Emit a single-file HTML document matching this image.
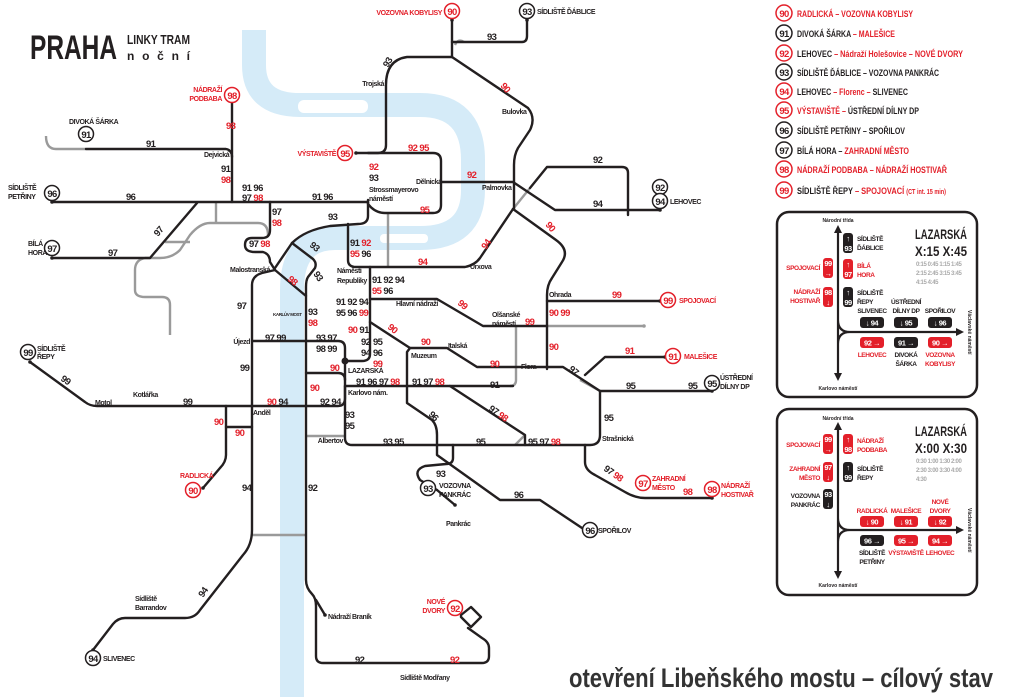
<!DOCTYPE html>
<html><head><meta charset="utf-8"><style>
html,body{margin:0;padding:0;background:#fff;}
svg{display:block;}
text{font-family:"Liberation Sans Narrow","Liberation Sans",sans-serif;font-weight:bold;}
.n{font-size:9.5px;fill:#231f20;letter-spacing:-0.6px;}
.r{fill:#e3202a;}
.s{font-size:7px;fill:#231f20;letter-spacing:-0.4px;}
.k{fill:none;stroke:#231f20;stroke-width:2.4;stroke-linejoin:round;stroke-linecap:round;}
.g{fill:none;stroke:#9a9a9a;stroke-width:2.4;stroke-linejoin:round;}
.cb{fill:#fff;stroke:#231f20;stroke-width:1.5;}
.cr{fill:#fff;stroke:#e3202a;stroke-width:1.5;}
.ct{font-size:9.5px;text-anchor:middle;letter-spacing:-0.6px;}
.lg{font-size:9.5px;}
.bx{fill:none;stroke:#231f20;stroke-width:2.5;}
.pb{fill:#231f20;}
.pr{fill:#e3202a;}
.pt{font-size:7.5px;fill:#fff;text-anchor:middle;letter-spacing:-0.5px;}
.bl{font-size:6.5px;letter-spacing:-0.4px;}
.tg{font-size:6px;fill:#aaa;letter-spacing:-0.4px;}
</style></head><body>
<svg width="1024" height="697" viewBox="0 0 1024 697" xmlns="http://www.w3.org/2000/svg">
<!-- river -->
<path d="M254,30 L254,65 Q254,105 300,105 L420,105 Q473,105 473,160 L473,190 Q473,238 420,238 L335,238 Q292,238 292,290 L292,697" fill="none" stroke="#d5ebf8" stroke-width="24"/>
<rect x="298" y="100" width="70" height="13" rx="6" fill="#fff"/>
<rect x="380" y="234" width="48" height="9" rx="4" fill="#fff"/>

<!-- title -->
<text x="30" y="59" style="font-size:34px" fill="#231f20" textLength="87" lengthAdjust="spacingAndGlyphs">PRAHA</text>
<text x="127" y="44" style="font-size:13px" fill="#231f20" textLength="63" lengthAdjust="spacingAndGlyphs">LINKY TRAM</text>
<text x="127" y="60" style="font-size:12px" fill="#231f20" textLength="63" lengthAdjust="spacing">noční</text>

<!-- gray lines -->
<g class="g">
<path d="M46,136 Q46,149 56,149 L86,149"/>
<path d="M216,202 L216,223"/>
<path d="M268,235 Q268,223 258,223 L210,223 Q200,223 190,235 L180,250 Q172,258 160,258 L145,258 Q135,260 135,270 L135,290 Q135,297 145,297 L162,297 Q170,297 170,305 L170,335"/>
<path d="M165,242 L190,242"/>
<path d="M388,213 L388,267"/>
<path d="M516,326 L516,380 Q516,386 510,386"/>
<path d="M547,326 L644,326"/>
<path d="M513,209 L530,188"/>
<path d="M580,380 L600,391"/>
<path d="M306,436 L345,436"/>
<path d="M252,535 L306,535"/>
<path d="M515,445 L525,435"/>
<path d="M455,45 Q458,38 464,42"/>
</g>

<!-- black lines -->
<g class="k">
<path d="M452,20 L452,57"/>
<path d="M452,42 L522,42 Q527,42 527,36 L527,20"/>
<path d="M452,57 L407,57 Q386,60 386,85 L386,145 Q386,153 378,153 L356,153"/>
<path d="M452,57 L528,108 Q536,118 530,130 L518,148 Q514,155 514,165 L514,209"/>
<path d="M368,153 L433,153 Q441,153 441,161 L441,205 Q441,213 433,213 L385,213 Q375,213 368,204 L368,200"/>
<path d="M441,182 L513,182 L555,210 L660,210"/>
<path d="M530,188 L547,167 L622,167 Q628,167 628,173 L628,215"/>
<path d="M232,95 L232,202"/>
<path d="M86,149 L226,149 Q232,150 232,157"/>
<path d="M52,202 L368,202"/>
<path d="M52,258 L150,258 L197,203"/>
<path d="M368,202 L368,216 Q368,224 358,224 L330,226 Q305,230 292,243 L275,268"/>
<path d="M270,202 L270,230 Q270,238 262,238 L252,238 Q245,238 245,245 Q245,252 255,252 L263,252 Q270,254 270,262 L275,270"/>
<path d="M275,270 L306,296"/>
<path d="M292,243 L313,259 Q317,263 315,268 L308,277 Q306,280 306,287 L306,580 Q306,588 312,594 Q316,598 316,606 L316,656 Q316,663 323,663 L482,663 Q489,663 489,656 L489,648 Q489,642 482,638 L468,628"/>
<path d="M316,600 L325,615"/>
<path d="M461,615 l10,-8 l10,10 l-10,10 l-10,-10 z"/>
<path d="M275,270 L262,273 Q252,276 252,285 L252,530 Q252,545 243,555 L200,610 Q195,618 185,618 L125,618 Q118,618 113,624 L93,650"/>
<path d="M348,224 L348,260 Q348,267 356,267 L465,267 Q475,265 480,258 L513,209"/>
<path d="M513,209 L556,240 Q570,250 562,262 L552,278 Q547,285 547,295 L547,369"/>
<path d="M547,301 L660,301"/>
<path d="M370,267 L370,354 Q370,361 362,361 L345,361"/>
<path d="M370,299 L437,299 L483,326 L547,326"/>
<path d="M370,322 L410,348 L447,348 L477,367 L563,367 L600,391 L712,391"/>
<path d="M585,375 L605,357 L665,357"/>
<path d="M410,348 L407,352 L407,403 L432,420 Q437,425 437,435 L437,455 L500,500 L540,500 L585,530"/>
<path d="M252,341 L338,341 Q345,341 345,348 L345,361"/>
<path d="M345,361 L345,438 Q345,445 352,445 L590,445 Q600,445 600,435 L600,391"/>
<path d="M345,386 L500,386 Q510,386 513,386"/>
<path d="M450,386 L525,435 L525,445"/>
<path d="M306,373 L338,373 Q345,373 345,380"/>
<path d="M30,362 L85,402 Q90,406 97,406 L338,406 Q345,406 345,398 L345,386"/>
<path d="M226,406 L226,455 Q226,462 220,468 L203,488"/>
<path d="M226,427 L252,427"/>
<path d="M453,445 L453,458 Q453,464 446,464 L425,466 Q413,470 420,480 L437,490"/>
<path d="M437,490 L455,505"/>
<path d="M585,445 L585,462 Q585,470 595,475 L625,492 Q635,498 645,498 L712,498"/>
</g>
<g fill="#231f20">
<circle cx="345" cy="361" r="3.5"/>
<circle cx="356" cy="153" r="1.8"/><circle cx="452" cy="20" r="1.8"/><circle cx="527" cy="20" r="1.8"/>
<circle cx="232" cy="95" r="1.8"/><circle cx="52" cy="202" r="1.8"/><circle cx="52" cy="258" r="1.8"/>
<circle cx="660" cy="210" r="1.8"/><circle cx="660" cy="301" r="1.8"/><circle cx="665" cy="357" r="1.8"/>
<circle cx="712" cy="391" r="1.8"/><circle cx="712" cy="498" r="1.8"/><circle cx="585" cy="530" r="1.8"/>
<circle cx="30" cy="362" r="1.8"/><circle cx="203" cy="488" r="1.8"/><circle cx="93" cy="650" r="1.8"/>
<circle cx="325" cy="615" r="1.8"/><circle cx="455" cy="505" r="1.8"/><circle cx="644" cy="326" r="1.8" fill="#9a9a9a"/>
</g>

<!-- terminus circles -->
<g>
<circle class="cr" cx="452" cy="11" r="7.5"/><text class="ct r" x="452" y="15">90</text>
<circle class="cb" cx="527" cy="11" r="7.5"/><text class="ct n" x="527" y="15">93</text>
<circle class="cr" cx="232" cy="95" r="7.5"/><text class="ct r" x="232" y="99">98</text>
<circle class="cb" cx="86" cy="134" r="7.5"/><text class="ct n" x="86" y="138">91</text>
<circle class="cb" cx="52" cy="193" r="7.5"/><text class="ct n" x="52" y="197">96</text>
<circle class="cb" cx="52" cy="248" r="7.5"/><text class="ct n" x="52" y="252">97</text>
<circle class="cr" cx="345" cy="153" r="7.5"/><text class="ct r" x="345" y="157">95</text>
<circle class="cb" cx="660" cy="187" r="7.5"/><text class="ct n" x="660" y="191">92</text>
<circle class="cb" cx="660" cy="201" r="7.5"/><text class="ct n" x="660" y="205">94</text>
<circle class="cr" cx="668" cy="300" r="7.5"/><text class="ct r" x="668" y="304">99</text>
<circle class="cr" cx="673" cy="356" r="7.5"/><text class="ct r" x="673" y="360">91</text>
<circle class="cb" cx="712" cy="383" r="7.5"/><text class="ct n" x="712" y="387">95</text>
<circle class="cr" cx="643" cy="483" r="7.5"/><text class="ct r" x="643" y="487">97</text>
<circle class="cr" cx="712" cy="489" r="7.5"/><text class="ct r" x="712" y="493">98</text>
<circle class="cb" cx="590" cy="530" r="7.5"/><text class="ct n" x="590" y="534">96</text>
<circle class="cb" cx="428" cy="488" r="7.5"/><text class="ct n" x="428" y="492">93</text>
<circle class="cb" cx="28" cy="352" r="7.5"/><text class="ct n" x="28" y="356">99</text>
<circle class="cr" cx="193" cy="490" r="7.5"/><text class="ct r" x="193" y="494">90</text>
<circle class="cb" cx="93" cy="658" r="7.5"/><text class="ct n" x="93" y="662">94</text>
<circle class="cr" cx="455" cy="608" r="7.5"/><text class="ct r" x="455" y="612">92</text>
</g>

<!-- station labels -->
<g class="s">
<text x="442" y="15" text-anchor="end" class="r">VOZOVNA KOBYLISY</text>
<text x="537" y="14">SÍDLIŠTĚ ĎÁBLICE</text>
<text x="384" y="86" text-anchor="end">Trojská</text>
<text x="502" y="114">Bulovka</text>
<text x="222" y="92" text-anchor="end" class="r">NÁDRAŽÍ</text><text x="222" y="101" text-anchor="end" class="r">PODBABA</text>
<text x="69" y="124">DIVOKÁ ŠÁRKA</text>
<text x="204" y="157">Dejvická</text>
<text x="8" y="190">SÍDLIŠTĚ</text><text x="8" y="199">PETŘINY</text>
<text x="28" y="246">BÍLÁ</text><text x="28" y="255">HORA</text>
<text x="336" y="156" text-anchor="end" class="r">VÝSTAVIŠTĚ</text>
<text x="369" y="192">Strossmayerovo</text><text x="369" y="201">náměstí</text>
<text x="416" y="184">Dělnická</text>
<text x="482" y="190">Palmovka</text>
<text x="670" y="204">LEHOVEC</text>
<text x="270" y="272" text-anchor="end">Malostranská</text>
<text x="337" y="273">Náměstí</text><text x="337" y="283">Republiky</text>
<text x="470" y="269">Urxova</text>
<text x="396" y="306">Hlavní nádraží</text>
<text x="492" y="317">Olšanské</text><text x="492" y="326">náměstí</text>
<text x="549" y="297">Ohrada</text>
<text x="679" y="303" class="r">SPOJOVACÍ</text>
<text x="684" y="359" class="r">MALEŠICE</text>
<text x="720" y="380">ÚSTŘEDNÍ</text><text x="720" y="389">DÍLNY DP</text>
<text x="273" y="316" style="font-size:4.5px">KARLŮV MOST</text>
<text x="250" y="344" text-anchor="end">Újezd</text>
<text x="348" y="373">LAZARSKÁ</text>
<text x="348" y="395">Karlovo nám.</text>
<text x="411" y="358">Muzeum</text>
<text x="448" y="348">Italská</text>
<text x="521" y="369">Flora</text>
<text x="37" y="351">SÍDLIŠTĚ</text><text x="37" y="359">ŘEPY</text>
<text x="95" y="405">Motol</text>
<text x="133" y="397">Kotlářka</text>
<text x="253" y="415">Anděl</text>
<text x="343" y="443" text-anchor="end">Albertov</text>
<text x="602" y="441">Strašnická</text>
<text x="180" y="478" class="r">RADLICKÁ</text>
<text x="439" y="488">VOZOVNA</text><text x="439" y="497">PANKRÁC</text>
<text x="446" y="526">Pankrác</text>
<text x="598" y="533">SPOŘILOV</text>
<text x="652" y="481" class="r">ZAHRADNÍ</text><text x="652" y="490" class="r">MĚSTO</text>
<text x="721" y="488" class="r">NÁDRAŽÍ</text><text x="721" y="497" class="r">HOSTIVAŘ</text>
<text x="135" y="601">Sídliště</text><text x="135" y="610">Barrandov</text>
<text x="103" y="661">SLIVENEC</text>
<text x="328" y="619">Nádraží Braník</text>
<text x="445" y="604" text-anchor="end" class="r">NOVÉ</text><text x="445" y="613" text-anchor="end" class="r">DVORY</text>
<text x="400" y="680">Sídliště Modřany</text>
</g>

<!-- line number labels -->
<g class="n">
<text x="487" y="40">93</text>
<text x="226" y="129" class="r">98</text>
<text x="146" y="147">91</text>
<text x="221" y="172">91</text><text x="221" y="183" class="r">98</text>
<text x="126" y="200">96</text>
<text x="242" y="191">91 96</text><text x="242" y="201">97 <tspan class="r">98</tspan></text>
<text x="312" y="200">91 96</text>
<text x="408" y="151" class="r">92 95</text>
<text x="369" y="170" class="r">92</text><text x="369" y="181">93</text>
<text x="420" y="213" class="r">95</text>
<text x="467" y="178" class="r">92</text>
<text x="593" y="163">92</text>
<text x="593" y="207">94</text>
<text x="108" y="256">97</text>
<text x="272" y="215">97</text><text x="272" y="226" class="r">98</text>
<text x="328" y="220">93</text>
<text x="249" y="247">97 <tspan class="r">98</tspan></text>
<text x="350" y="246">91 <tspan class="r">92</tspan></text><text x="350" y="257"><tspan class="r">95</tspan> 96</text>
<text x="418" y="265" class="r">94</text>
<text x="372" y="283">91 92 94</text><text x="372" y="294"><tspan class="r">95</tspan> 96</text>
<text x="237" y="309">97</text>
<text x="308" y="315">93</text><text x="308" y="326" class="r">98</text>
<text x="336" y="305">91 92 94</text><text x="336" y="316">95 96 <tspan class="r">99</tspan></text>
<text x="348" y="333"><tspan class="r">90</tspan> 91</text>
<text x="361" y="345">92</text><text x="361" y="356">94</text>
<text x="373" y="345">95</text><text x="373" y="356">96</text><text x="373" y="367" class="r">99</text>
<text x="421" y="345" class="r">90</text>
<text x="525" y="325" class="r">99</text>
<text x="549" y="316" class="r">90 99</text>
<text x="612" y="298" class="r">99</text>
<text x="549" y="350" class="r">90</text>
<text x="490" y="367" class="r">90</text>
<text x="265" y="341">97 99</text>
<text x="316" y="341">93 97</text><text x="316" y="352">98 99</text>
<text x="240" y="371">99</text>
<text x="330" y="371" class="r">90</text>
<text x="310" y="391" class="r">90</text>
<text x="356" y="385">91 96 97 <tspan class="r">98</tspan></text>
<text x="412" y="385">91 97 <tspan class="r">98</tspan></text>
<text x="490" y="388">91</text>
<text x="625" y="354" class="r">91</text>
<text x="626" y="389">95</text><text x="688" y="389">95</text>
<text x="604" y="421">95</text>
<text x="183" y="405">99</text>
<text x="267" y="405"><tspan class="r">90</tspan> 94</text>
<text x="320" y="405">92 94</text>
<text x="214" y="425" class="r">90</text>
<text x="235" y="436" class="r">90</text>
<text x="345" y="418">93</text><text x="345" y="429">95</text>
<text x="383" y="445">93 95</text>
<text x="476" y="445">95</text>
<text x="528" y="445">95 97 <tspan class="r">98</tspan></text>
<text x="242" y="491">94</text>
<text x="308" y="491">92</text>
<text x="436" y="477">93</text>
<text x="514" y="498">96</text>
<text x="683" y="495" class="r">98</text>
<text x="355" y="663">92</text>
<text x="450" y="663" class="r">92</text>
<text transform="translate(388,68) rotate(-60)">93</text>
<text transform="translate(500,86) rotate(50)" class="r">90</text>
<text transform="translate(545,225) rotate(50)" class="r">90</text>
<text transform="translate(486,250) rotate(-55)" class="r">94</text>
<text transform="translate(158,237) rotate(-50)">97</text>
<text transform="translate(309,246) rotate(40)">93</text>
<text transform="translate(313,274) rotate(55)">93</text>
<text transform="translate(287,280) rotate(40)" class="r">98</text>
<text transform="translate(457,304) rotate(40)" class="r">99</text>
<text transform="translate(387,328) rotate(40)" class="r">90</text>
<text transform="translate(568,370) rotate(40)">97</text>
<text transform="translate(428,415) rotate(45)">96</text>
<text transform="translate(488,410) rotate(35)">97 <tspan class="r">98</tspan></text>
<text transform="translate(603,470) rotate(35)">97 <tspan class="r">98</tspan></text>
<text transform="translate(60,380) rotate(35)">99</text>
<text transform="translate(203,598) rotate(-55)">94</text>
</g>

<!-- legend -->
<g class="lg">
<circle class="cr" cx="784" cy="13" r="8"/><text class="ct r" x="784" y="17">90</text>
<text x="797" y="17" class="r" textLength="116" lengthAdjust="spacingAndGlyphs">RADLICKÁ – VOZOVNA KOBYLISY</text>
<circle class="cb" cx="784" cy="33" r="8"/><text class="ct n" x="784" y="37">91</text>
<text x="797" y="37" fill="#231f20" textLength="98" lengthAdjust="spacingAndGlyphs">DIVOKÁ ŠÁRKA <tspan class="r">– MALEŠICE</tspan></text>
<circle class="cr" cx="784" cy="53" r="8"/><text class="ct r" x="784" y="57">92</text>
<text x="797" y="57" fill="#231f20" textLength="166" lengthAdjust="spacingAndGlyphs">LEHOVEC <tspan class="r">– Nádraží Holešovice – NOVÉ DVORY</tspan></text>
<circle class="cb" cx="784" cy="72" r="8"/><text class="ct n" x="784" y="76">93</text>
<text x="797" y="76" fill="#231f20" textLength="142" lengthAdjust="spacingAndGlyphs">SÍDLIŠTĚ ĎÁBLICE – VOZOVNA PANKRÁC</text>
<circle class="cr" cx="784" cy="91" r="8"/><text class="ct r" x="784" y="95">94</text>
<text x="797" y="95" fill="#231f20" textLength="111" lengthAdjust="spacingAndGlyphs">LEHOVEC <tspan class="r">– Florenc –</tspan> SLIVENEC</text>
<circle class="cr" cx="784" cy="110" r="8"/><text class="ct r" x="784" y="114">95</text>
<text x="797" y="114" fill="#231f20" textLength="122" lengthAdjust="spacingAndGlyphs"><tspan class="r">VÝSTAVIŠTĚ –</tspan> ÚSTŘEDNÍ DÍLNY DP</text>
<circle class="cb" cx="784" cy="130" r="8"/><text class="ct n" x="784" y="134">96</text>
<text x="797" y="134" fill="#231f20" textLength="108" lengthAdjust="spacingAndGlyphs">SÍDLIŠTĚ PETŘINY – SPOŘILOV</text>
<circle class="cb" cx="784" cy="150" r="8"/><text class="ct n" x="784" y="154">97</text>
<text x="797" y="154" fill="#231f20" textLength="112" lengthAdjust="spacingAndGlyphs">BÍLÁ HORA – <tspan class="r">ZAHRADNÍ MĚSTO</tspan></text>
<circle class="cr" cx="784" cy="169" r="8"/><text class="ct r" x="784" y="173">98</text>
<text x="797" y="173" class="r" textLength="150" lengthAdjust="spacingAndGlyphs">NÁDRAŽÍ PODBABA – NÁDRAŽÍ HOSTIVAŘ</text>
<circle class="cr" cx="784" cy="190" r="8"/><text class="ct r" x="784" y="194">99</text>
<text x="797" y="194" fill="#231f20" textLength="149" lengthAdjust="spacingAndGlyphs">SÍDLIŠTĚ ŘEPY <tspan class="r">– SPOJOVACÍ <tspan style="font-size:7px">(CT int. 15 min)</tspan></tspan></text>
</g>

<!-- box 1 -->
<g>
<rect class="bx" x="777" y="212" width="200" height="185" rx="12"/>
<path d="M838,232 L838,374 M838,320 Q838,332 850,332 L956,332 M838,344 Q838,332 850,332" fill="none" stroke="#231f20" stroke-width="2.2"/>
<path d="M834,233 L838,225 L842,233 Z M834,373 L838,381 L842,373 Z M956,328 L964,332 L956,336 Z" fill="#231f20"/>
<text x="838" y="222" text-anchor="middle" style="font-size:5px" fill="#231f20">Národní třída</text>
<text x="838" y="390" text-anchor="middle" style="font-size:5px" fill="#231f20">Karlovo náměstí</text>
<text transform="translate(968,310) rotate(90)" style="font-size:5px" fill="#231f20">Václavské náměstí</text>
<text x="967" y="239" text-anchor="end" style="font-size:14px" fill="#231f20" textLength="52" lengthAdjust="spacingAndGlyphs">LAZARSKÁ</text>
<text x="967" y="256" text-anchor="end" style="font-size:14px" fill="#231f20" textLength="52" lengthAdjust="spacingAndGlyphs">X:15  X:45</text>
<text x="916" y="266" class="tg">0:15 0:45 1:15 1:45</text>
<text x="916" y="275" class="tg">2:15 2:45 3:15 3:45</text>
<text x="916" y="284" class="tg">4:15 4:45</text>
<rect class="pb" x="843" y="233" width="10" height="20" rx="3"/><text class="pt" x="848" y="251">93</text><text class="pt" x="848" y="241">↑</text>
<rect class="pr" x="843" y="259" width="10" height="20" rx="3"/><text class="pt" x="848" y="277">97</text><text class="pt" x="848" y="267">↑</text>
<rect class="pb" x="843" y="287" width="10" height="20" rx="3"/><text class="pt" x="848" y="305">99</text><text class="pt" x="848" y="295">↑</text>
<rect class="pr" x="823" y="258" width="10" height="20" rx="3"/><text class="pt" x="828" y="266">99</text><text class="pt" x="828" y="276">→</text>
<rect class="pr" x="823" y="287" width="10" height="20" rx="3"/><text class="pt" x="828" y="295">98</text><text class="pt" x="828" y="305">↓</text>
<g class="bl" fill="#231f20">
<text x="857" y="241">SÍDLIŠTĚ</text><text x="857" y="250">ĎÁBLICE</text>
<text x="857" y="268" class="r">BÍLÁ</text><text x="857" y="277" class="r">HORA</text>
<text x="857" y="295">SÍDLIŠTĚ</text><text x="857" y="304">ŘEPY</text>
<text x="820" y="270" text-anchor="end" class="r">SPOJOVACÍ</text>
<text x="820" y="294" text-anchor="end" class="r">NÁDRAŽÍ</text><text x="820" y="303" text-anchor="end" class="r">HOSTIVAŘ</text>
<text x="872" y="313" text-anchor="middle">SLIVENEC</text>
<text x="906" y="304" text-anchor="middle">ÚSTŘEDNÍ</text><text x="906" y="313" text-anchor="middle">DÍLNY DP</text>
<text x="940" y="313" text-anchor="middle">SPOŘILOV</text>
<text x="872" y="357" text-anchor="middle" class="r">LEHOVEC</text>
<text x="906" y="357" text-anchor="middle">DIVOKÁ</text><text x="906" y="366" text-anchor="middle">ŠÁRKA</text>
<text x="940" y="357" text-anchor="middle" class="r">VOZOVNA</text><text x="940" y="366" text-anchor="middle" class="r">KOBYLISY</text>
</g>
<rect class="pb" x="860" y="317" width="24" height="11" rx="3"/><text class="pt" x="872" y="325.5">↓ 94</text>
<rect class="pb" x="894" y="317" width="24" height="11" rx="3"/><text class="pt" x="906" y="325.5">↓ 95</text>
<rect class="pb" x="928" y="317" width="24" height="11" rx="3"/><text class="pt" x="940" y="325.5">↓ 96</text>
<rect class="pr" x="860" y="337" width="24" height="11" rx="3"/><text class="pt" x="872" y="345.5">92 →</text>
<rect class="pb" x="894" y="337" width="24" height="11" rx="3"/><text class="pt" x="906" y="345.5">91 →</text>
<rect class="pr" x="928" y="337" width="24" height="11" rx="3"/><text class="pt" x="940" y="345.5">90 →</text>
</g>

<!-- box 2 -->
<g>
<rect class="bx" x="777" y="409" width="200" height="186" rx="12"/>
<path d="M838,429 L838,572 M838,518 Q838,530 850,530 L956,530 M838,542 Q838,530 850,530" fill="none" stroke="#231f20" stroke-width="2.2"/>
<path d="M834,430 L838,422 L842,430 Z M834,571 L838,579 L842,571 Z M956,526 L964,530 L956,534 Z" fill="#231f20"/>
<text x="838" y="420" text-anchor="middle" style="font-size:5px" fill="#231f20">Národní třída</text>
<text x="838" y="587" text-anchor="middle" style="font-size:5px" fill="#231f20">Karlovo náměstí</text>
<text transform="translate(968,508) rotate(90)" style="font-size:5px" fill="#231f20">Václavské náměstí</text>
<text x="967" y="436" text-anchor="end" style="font-size:14px" fill="#231f20" textLength="52" lengthAdjust="spacingAndGlyphs">LAZARSKÁ</text>
<text x="967" y="453" text-anchor="end" style="font-size:14px" fill="#231f20" textLength="52" lengthAdjust="spacingAndGlyphs">X:00  X:30</text>
<text x="916" y="463" class="tg">0:30 1:00 1:30 2:00</text>
<text x="916" y="472" class="tg">2:30 3:00 3:30 4:00</text>
<text x="916" y="481" class="tg">4:30</text>
<rect class="pr" x="823" y="434" width="10" height="20" rx="3"/><text class="pt" x="828" y="442">99</text><text class="pt" x="828" y="452">→</text>
<rect class="pr" x="823" y="462" width="10" height="20" rx="3"/><text class="pt" x="828" y="470">97</text><text class="pt" x="828" y="480">↓</text>
<rect class="pb" x="823" y="489" width="10" height="20" rx="3"/><text class="pt" x="828" y="497">93</text><text class="pt" x="828" y="507">↓</text>
<rect class="pr" x="843" y="434" width="10" height="20" rx="3"/><text class="pt" x="848" y="442">↑</text><text class="pt" x="848" y="452">98</text>
<rect class="pb" x="843" y="462" width="10" height="20" rx="3"/><text class="pt" x="848" y="470">↑</text><text class="pt" x="848" y="480">99</text>
<g class="bl" fill="#231f20">
<text x="820" y="447" text-anchor="end" class="r">SPOJOVACÍ</text>
<text x="820" y="471" text-anchor="end" class="r">ZAHRADNÍ</text><text x="820" y="480" text-anchor="end" class="r">MĚSTO</text>
<text x="820" y="498" text-anchor="end">VOZOVNA</text><text x="820" y="507" text-anchor="end">PANKRÁC</text>
<text x="857" y="443" class="r">NÁDRAŽÍ</text><text x="857" y="452" class="r">PODBABA</text>
<text x="857" y="471">SÍDLIŠTĚ</text><text x="857" y="480">ŘEPY</text>
<text x="872" y="513" text-anchor="middle" class="r">RADLICKÁ</text>
<text x="906" y="513" text-anchor="middle" class="r">MALEŠICE</text>
<text x="940" y="504" text-anchor="middle" class="r">NOVÉ</text><text x="940" y="513" text-anchor="middle" class="r">DVORY</text>
<text x="872" y="555" text-anchor="middle">SÍDLIŠTĚ</text><text x="872" y="564" text-anchor="middle">PETŘINY</text>
<text x="906" y="555" text-anchor="middle" class="r">VÝSTAVIŠTĚ</text>
<text x="940" y="555" text-anchor="middle" class="r">LEHOVEC</text>
</g>
<rect class="pr" x="860" y="516" width="24" height="11" rx="3"/><text class="pt" x="872" y="524.5">↓ 90</text>
<rect class="pr" x="894" y="516" width="24" height="11" rx="3"/><text class="pt" x="906" y="524.5">↓ 91</text>
<rect class="pr" x="928" y="516" width="24" height="11" rx="3"/><text class="pt" x="940" y="524.5">↓ 92</text>
<rect class="pb" x="860" y="535" width="24" height="11" rx="3"/><text class="pt" x="872" y="543.5">96 →</text>
<rect class="pr" x="894" y="535" width="24" height="11" rx="3"/><text class="pt" x="906" y="543.5">95 →</text>
<rect class="pr" x="928" y="535" width="24" height="11" rx="3"/><text class="pt" x="940" y="543.5">94 →</text>
</g>

<text x="569" y="687" style="font-size:27px" fill="#333" textLength="424" lengthAdjust="spacingAndGlyphs">otevření Libeňského mostu – cílový stav</text>
</svg>
</body></html>
